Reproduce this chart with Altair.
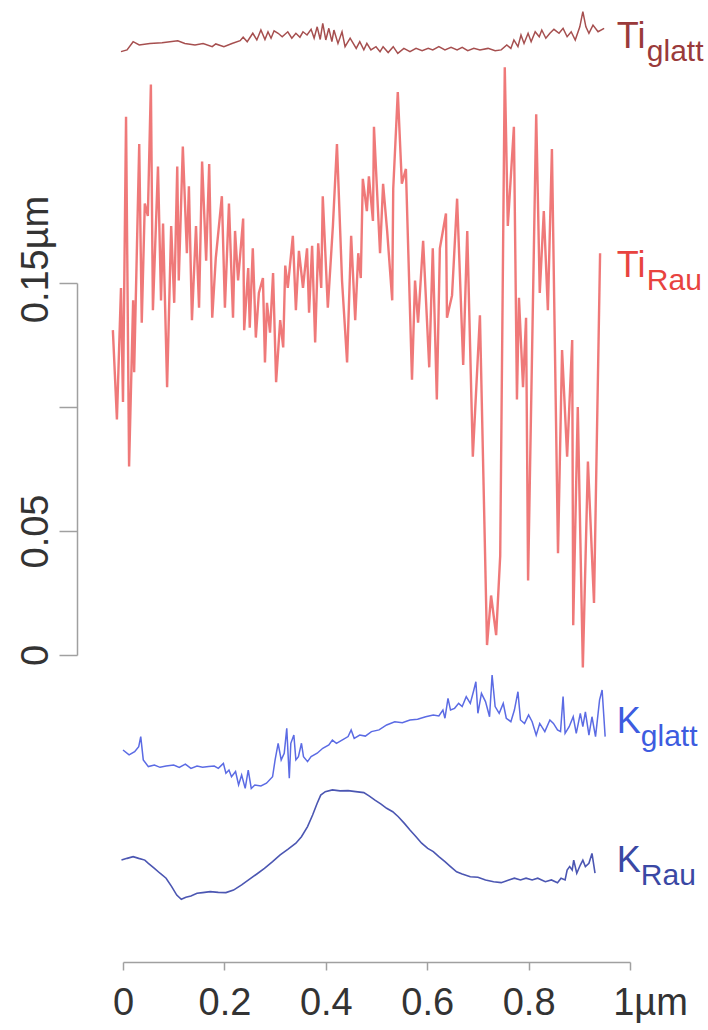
import altair as alt
import pandas as pd

# ---------------- data ----------------
series_names = ["Ti_glatt", "Ti_Rau", "K_glatt", "K_Rau"]

ti_glatt_x = [-0.004, 0.008, 0.020, 0.032, 0.053, 0.077, 0.108, 0.122, 0.142, 0.158,
              0.176, 0.183, 0.199, 0.215, 0.231, 0.237, 0.245, 0.256, 0.264, 0.272,
              0.280, 0.286, 0.292, 0.298, 0.306, 0.314, 0.325, 0.333, 0.341, 0.349,
              0.355, 0.363, 0.371, 0.377, 0.383, 0.389, 0.394, 0.400, 0.406, 0.412,
              0.416, 0.424, 0.432, 0.438, 0.448, 0.460, 0.467, 0.475, 0.481, 0.489,
              0.499, 0.507, 0.513, 0.523, 0.533, 0.542, 0.554, 0.566, 0.578, 0.590,
              0.602, 0.611, 0.623, 0.635, 0.647, 0.659, 0.669, 0.680, 0.692, 0.704,
              0.720, 0.734, 0.746, 0.757, 0.765, 0.771, 0.779, 0.785, 0.791, 0.799,
              0.805, 0.813, 0.821, 0.826, 0.834, 0.842, 0.850, 0.860, 0.868, 0.876,
              0.884, 0.892, 0.901, 0.907, 0.913, 0.919, 0.927, 0.937, 0.949]
ti_glatt_y = [0.2433, 0.2440, 0.2473, 0.2460, 0.2466, 0.2469, 0.2477, 0.2466, 0.2460, 0.2466,
              0.2453, 0.2464, 0.2453, 0.2466, 0.2477, 0.2491, 0.2473, 0.2507, 0.2480, 0.2520,
              0.2482, 0.2513, 0.2487, 0.2517, 0.2507, 0.2493, 0.2513, 0.2487, 0.2507, 0.2491,
              0.2513, 0.2500, 0.2523, 0.2487, 0.2533, 0.2482, 0.2547, 0.2480, 0.2527, 0.2473,
              0.2520, 0.2466, 0.2513, 0.2453, 0.2487, 0.2446, 0.2473, 0.2440, 0.2466, 0.2440,
              0.2453, 0.2433, 0.2453, 0.2429, 0.2453, 0.2426, 0.2446, 0.2433, 0.2446, 0.2437,
              0.2446, 0.2440, 0.2453, 0.2440, 0.2450, 0.2440, 0.2450, 0.2437, 0.2446, 0.2440,
              0.2446, 0.2437, 0.2440, 0.2460, 0.2446, 0.2480, 0.2453, 0.2500, 0.2466, 0.2507,
              0.2473, 0.2513, 0.2493, 0.2520, 0.2487, 0.2507, 0.2523, 0.2507, 0.2527, 0.2493,
              0.2513, 0.2480, 0.2533, 0.2594, 0.2533, 0.2507, 0.2540, 0.2513, 0.2527]

ti_rau_x = [-0.020, -0.012, -0.004, 0.000, 0.006, 0.012, 0.020, 0.022, 0.032, 0.037,
            0.043, 0.049, 0.055, 0.059, 0.069, 0.075, 0.079, 0.087, 0.095, 0.101,
            0.107, 0.110, 0.118, 0.126, 0.130, 0.136, 0.144, 0.150, 0.156, 0.164,
            0.170, 0.176, 0.183, 0.195, 0.201, 0.209, 0.217, 0.221, 0.227, 0.237,
            0.239, 0.247, 0.250, 0.256, 0.262, 0.268, 0.276, 0.280, 0.284, 0.290,
            0.296, 0.302, 0.310, 0.316, 0.320, 0.325, 0.335, 0.341, 0.347, 0.355,
            0.363, 0.367, 0.373, 0.379, 0.385, 0.391, 0.394, 0.404, 0.414, 0.422,
            0.432, 0.442, 0.450, 0.458, 0.464, 0.469, 0.473, 0.481, 0.485, 0.493,
            0.495, 0.507, 0.513, 0.521, 0.531, 0.533, 0.542, 0.550, 0.558, 0.570,
            0.576, 0.582, 0.592, 0.604, 0.611, 0.619, 0.625, 0.637, 0.639, 0.649,
            0.659, 0.671, 0.679, 0.690, 0.704, 0.718, 0.726, 0.736, 0.744, 0.753,
            0.759, 0.771, 0.777, 0.781, 0.789, 0.795, 0.799, 0.815, 0.822, 0.830,
            0.838, 0.846, 0.858, 0.866, 0.876, 0.886, 0.888, 0.897, 0.907, 0.917,
            0.929, 0.941]
ti_rau_y = [0.131, 0.095, 0.148, 0.102, 0.217, 0.076, 0.143, 0.114, 0.206, 0.134,
            0.182, 0.177, 0.230, 0.139, 0.197, 0.143, 0.174, 0.108, 0.173, 0.142,
            0.197, 0.151, 0.205, 0.162, 0.189, 0.135, 0.173, 0.140, 0.199, 0.159,
            0.198, 0.136, 0.160, 0.185, 0.140, 0.182, 0.136, 0.171, 0.151, 0.176,
            0.131, 0.156, 0.132, 0.164, 0.128, 0.146, 0.152, 0.118, 0.142, 0.130,
            0.154, 0.110, 0.135, 0.124, 0.157, 0.148, 0.169, 0.139, 0.163, 0.148,
            0.164, 0.138, 0.165, 0.126, 0.166, 0.148, 0.185, 0.140, 0.173, 0.206,
            0.151, 0.118, 0.169, 0.135, 0.162, 0.152, 0.192, 0.179, 0.193, 0.175,
            0.213, 0.162, 0.190, 0.171, 0.143, 0.188, 0.227, 0.190, 0.196, 0.111,
            0.151, 0.134, 0.167, 0.116, 0.164, 0.103, 0.164, 0.178, 0.136, 0.145,
            0.184, 0.117, 0.171, 0.080, 0.137, 0.004, 0.024, 0.008, 0.040, 0.237,
            0.173, 0.213, 0.103, 0.144, 0.108, 0.136, 0.030, 0.218, 0.146, 0.179,
            0.139, 0.204, 0.041, 0.123, 0.080, 0.127, 0.012, 0.100, -0.005, 0.078,
            0.021, 0.162]

k_glatt_x = [0.000, 0.012, 0.023, 0.031, 0.035, 0.040, 0.050, 0.062, 0.073, 0.085,
             0.100, 0.111, 0.123, 0.134, 0.146, 0.157, 0.169, 0.180, 0.188, 0.198,
             0.203, 0.209, 0.214, 0.222, 0.228, 0.234, 0.241, 0.247, 0.253, 0.260,
             0.272, 0.283, 0.295, 0.300, 0.306, 0.312, 0.318, 0.323, 0.328, 0.331,
             0.337, 0.341, 0.346, 0.352, 0.356, 0.364, 0.371, 0.383, 0.394, 0.406,
             0.413, 0.421, 0.432, 0.444, 0.450, 0.456, 0.467, 0.478, 0.490, 0.505,
             0.520, 0.536, 0.551, 0.566, 0.581, 0.597, 0.612, 0.623, 0.631, 0.635,
             0.641, 0.646, 0.654, 0.662, 0.669, 0.677, 0.685, 0.692, 0.696, 0.700,
             0.707, 0.715, 0.723, 0.728, 0.734, 0.742, 0.750, 0.756, 0.765, 0.772,
             0.779, 0.784, 0.792, 0.800, 0.807, 0.815, 0.822, 0.832, 0.842, 0.849,
             0.857, 0.863, 0.868, 0.872, 0.880, 0.888, 0.894, 0.902, 0.907, 0.912,
             0.919, 0.925, 0.932, 0.940, 0.945, 0.951]
k_glatt_y = [-0.0383, -0.0403, -0.0390, -0.0370, -0.0329, -0.0423, -0.0450, -0.0444, -0.0453, -0.0448,
             -0.0444, -0.0453, -0.0440, -0.0457, -0.0448, -0.0453, -0.0450, -0.0448, -0.0457, -0.0437,
             -0.0477, -0.0464, -0.0491, -0.0470, -0.0524, -0.0484, -0.0538, -0.0464, -0.0538, -0.0524,
             -0.0528, -0.0517, -0.0491, -0.0423, -0.0356, -0.0423, -0.0396, -0.0296, -0.0497, -0.0356,
             -0.0323, -0.0423, -0.0410, -0.0356, -0.0410, -0.0430, -0.0410, -0.0396, -0.0376, -0.0363,
             -0.0343, -0.0356, -0.0343, -0.0329, -0.0302, -0.0336, -0.0323, -0.0327, -0.0309, -0.0302,
             -0.0282, -0.0269, -0.0273, -0.0262, -0.0259, -0.0249, -0.0242, -0.0246, -0.0222, -0.0255,
             -0.0175, -0.0222, -0.0215, -0.0195, -0.0208, -0.0168, -0.0195, -0.0141, -0.0108, -0.0235,
             -0.0155, -0.0188, -0.0249, -0.0081, -0.0208, -0.0235, -0.0195, -0.0255, -0.0269, -0.0222,
             -0.0148, -0.0262, -0.0276, -0.0242, -0.0269, -0.0323, -0.0276, -0.0309, -0.0262, -0.0276,
             -0.0302, -0.0309, -0.0168, -0.0316, -0.0289, -0.0249, -0.0316, -0.0235, -0.0289, -0.0229,
             -0.0323, -0.0249, -0.0329, -0.0181, -0.0141, -0.0329]

k_rau_x = [-0.003, 0.008, 0.020, 0.031, 0.043, 0.050, 0.062, 0.073, 0.085, 0.096,
           0.106, 0.115, 0.124, 0.134, 0.146, 0.157, 0.172, 0.188, 0.203, 0.218,
           0.234, 0.249, 0.264, 0.279, 0.295, 0.310, 0.325, 0.341, 0.352, 0.364,
           0.374, 0.383, 0.390, 0.399, 0.413, 0.428, 0.444, 0.459, 0.475, 0.486,
           0.497, 0.509, 0.520, 0.532, 0.543, 0.555, 0.566, 0.578, 0.589, 0.601,
           0.612, 0.623, 0.635, 0.646, 0.658, 0.669, 0.685, 0.700, 0.715, 0.731,
           0.746, 0.761, 0.772, 0.784, 0.795, 0.807, 0.818, 0.833, 0.845, 0.857,
           0.864, 0.872, 0.876, 0.881, 0.886, 0.889, 0.895, 0.902, 0.907, 0.912,
           0.919, 0.925, 0.931]
k_rau_y = [-0.0827, -0.0820, -0.0813, -0.0820, -0.0827, -0.0840, -0.0860, -0.0880, -0.0900, -0.0934,
           -0.0968, -0.0985, -0.0977, -0.0972, -0.0961, -0.0958, -0.0954, -0.0957, -0.0958, -0.0948,
           -0.0927, -0.0905, -0.0883, -0.0860, -0.0833, -0.0806, -0.0784, -0.0759, -0.0733, -0.0692,
           -0.0645, -0.0598, -0.0565, -0.0551, -0.0544, -0.0548, -0.0547, -0.0551, -0.0555, -0.0569,
           -0.0585, -0.0601, -0.0618, -0.0632, -0.0652, -0.0679, -0.0706, -0.0733, -0.0759, -0.0780,
           -0.0793, -0.0813, -0.0833, -0.0853, -0.0874, -0.0883, -0.0894, -0.0896, -0.0907, -0.0914,
           -0.0918, -0.0907, -0.0900, -0.0907, -0.0900, -0.0907, -0.0900, -0.0914, -0.0907, -0.0918,
           -0.0900, -0.0907, -0.0867, -0.0853, -0.0867, -0.0827, -0.0880, -0.0847, -0.0827, -0.0853,
           -0.0840, -0.0800, -0.0880]

# series labels (main text + subscript), anchored in data units
label_main = ["Ti", "Ti", "K", "K"]
label_sub = ["glatt", "Rau", "glatt", "Rau"]
label_group = ["Ti", "Ti", "K", "K"]
label_x = [0.974, 0.974, 0.974, 0.974]
label_y = [0.2448, 0.1524, -0.0315, -0.0875]

# axis ticks
x_tick_values = [0, 0.2, 0.4, 0.6, 0.8, 1]
x_tick_labels = ["0", "0.2", "0.4", "0.6", "0.8", "1µm"]
y_tick_values = [0, 0.05, 0.1, 0.15]
y_tick_labels = ["0", "0.05", "", "0.15µm"]

# styles
line_colors = ["#a64f4f", "#ec6262", "#5b6be4", "#4b56b2"]
line_widths = [1.5, 2.4, 1.5, 1.6]
line_opacity = [1.0, 0.85, 1.0, 1.0]
label_colors = ["#9a3a3a", "#e8433f", "#3d5ce0", "#3a48a4"]
axis_color = "#a0a0a0"
text_color = "#333333"
FONT = "Liberation Sans"

# ---------------- tables ----------------
series_x = [ti_glatt_x, ti_rau_x, k_glatt_x, k_rau_x]
series_y = [ti_glatt_y, ti_rau_y, k_glatt_y, k_rau_y]
rows = []
for name, xs, ys, lc, lw, lo in zip(series_names, series_x, series_y,
                                    line_colors, line_widths, line_opacity):
    for i, (xv, yv) in enumerate(zip(xs, ys)):
        rows.append({"series": name, "x": xv, "y": yv, "i": i,
                     "lc": lc, "lw": lw, "lo": lo})
lines_df = pd.DataFrame(rows)

label_df = pd.DataFrame({
    "series": series_names, "main": label_main, "sub": label_sub, "group": label_group,
    "x": label_x, "y": label_y, "lcolor": label_colors,
})


def label_expr(values, labels):
    expr = "''"
    for v, l in reversed(list(zip(values, labels))):
        expr = f"abs(datum.value - {v}) < 1e-9 ? '{l}' : ({expr})"
    return expr


W, H = 507, 952
x_scale = alt.Scale(domain=[0, 1], nice=False, zero=False)
y_scale = alt.Scale(domain=[0, 0.15], range=[645, 273], nice=False, zero=False)

x_axis = alt.Axis(
    values=x_tick_values, labelExpr=label_expr(x_tick_values, x_tick_labels),
    title=None, grid=False, domainColor=axis_color, tickColor=axis_color,
    domainWidth=1.5, tickWidth=1.5, tickSize=8,
    labelFont=FONT, labelFontSize=38, labelColor=text_color, labelPadding=14,
    labelFlush=False, labelOverlap=False,
    labelOffset={"condition": {"test": "datum.value == 1", "value": 20}, "value": 0},
)
y_axis = alt.Axis(
    values=y_tick_values, labelExpr=label_expr(y_tick_values, y_tick_labels),
    title=None, grid=False, offset=46, domainColor=axis_color, tickColor=axis_color,
    domainWidth=1.5, tickWidth=1.5, tickSize=18,
    labelFont=FONT, labelFontSize=38, labelColor=text_color,
    labelAngle=270, labelAlign="center", labelBaseline="bottom", labelPadding=4,
    labelFlush=False, labelOverlap=False,
    labelOffset={"condition": {"test": "datum.value > 0.14", "value": -24}, "value": 0},
)

lines = alt.Chart(lines_df).mark_line().encode(
    x=alt.X("x:Q", scale=x_scale, axis=x_axis),
    y=alt.Y("y:Q", scale=y_scale, axis=y_axis),
    color=alt.Color("lc:N", scale=None),
    strokeWidth=alt.StrokeWidth("lw:Q", scale=None),
    opacity=alt.Opacity("lo:Q", scale=None),
    detail="series:N",
    order="i:Q",
)

text_x = alt.X("x:Q", scale=x_scale)
text_y = alt.Y("y:Q", scale=y_scale)

main_text = alt.Chart(label_df).mark_text(
    align="left", baseline="alphabetic", font=FONT, fontSize=36
).encode(
    x=text_x, y=text_y, text="main:N",
    color=alt.Color("lcolor:N", scale=None),
)

sub_ti = alt.Chart(label_df).transform_filter("datum.group == 'Ti'").mark_text(
    align="left", baseline="alphabetic", font=FONT, fontSize=30, dx=30, dy=13
).encode(
    x=text_x, y=text_y, text="sub:N",
    color=alt.Color("lcolor:N", scale=None),
)

sub_k = alt.Chart(label_df).transform_filter("datum.group == 'K'").mark_text(
    align="left", baseline="alphabetic", font=FONT, fontSize=30, dx=24, dy=13
).encode(
    x=text_x, y=text_y, text="sub:N",
    color=alt.Color("lcolor:N", scale=None),
)

chart = alt.layer(lines, main_text, sub_ti, sub_k).properties(
    width=W, height=H,
    autosize=alt.AutoSizeParams(type="none"),
    padding={"left": 123, "top": 10, "right": 78, "bottom": 68},
    background="white",
).configure_view(stroke=None)

chart.save("out.html", embed_options={"renderer": "svg", "actions": False})
